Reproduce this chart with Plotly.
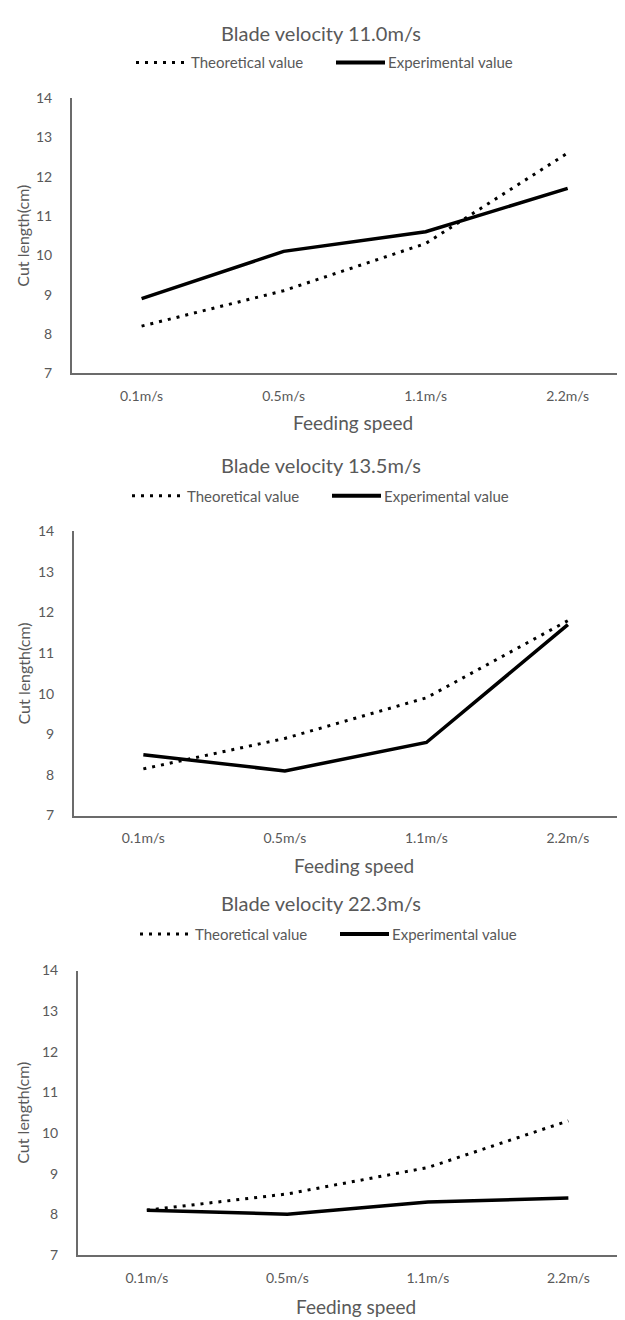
import plotly.graph_objects as go

categories = ["0.1m/s", "0.5m/s", "1.1m/s", "2.2m/s"]
titles = ["Blade velocity 11.0m/s", "Blade velocity 13.5m/s", "Blade velocity 22.3m/s"]
series_names = ["Theoretical value", "Experimental value"]
theoretical = [
    [8.2, 9.1, 10.3, 12.6],
    [8.15, 8.9, 9.9, 11.8],
    [8.1, 8.5, 9.15, 10.3],
]
experimental = [
    [8.9, 10.1, 10.6, 11.7],
    [8.5, 8.1, 8.8, 11.7],
    [8.1, 8.0, 8.3, 8.4],
]
y_ticks = [7, 8, 9, 10, 11, 12, 13, 14]

W, H = 625, 1320
FONT = "Lato"
GRAY = "#595959"
AXIS = "#6b6b6b"
DOT = "3px,6px"

# pixel geometry per panel
panels = [
    dict(top=82, bot=361, left=64, title=16, legend=46, leg_x=128, xlab=411),
    dict(top=521, bot=809, left=66, title=454, legend=485, leg_x=124, xlab=860),
    dict(top=966, bot=1254, left=70, title=898, legend=929, leg_x=132, xlab=1306),
]

def py(p):
    return 1 - p / H

def px(p):
    return p / W

fig = go.Figure()
annotations = []
shapes = []
layout = {}
for i in range(3):
    ax = "" if i == 0 else str(i + 1)
    P = panels[i]
    fig.add_trace(go.Scatter(
        x=categories, y=theoretical[i], mode="lines", name=series_names[0],
        line=dict(color="black", width=3, dash=DOT),
        xaxis="x" + ax, yaxis="y" + ax, showlegend=False))
    fig.add_trace(go.Scatter(
        x=categories, y=experimental[i], mode="lines", name=series_names[1],
        line=dict(color="black", width=3.5),
        xaxis="x" + ax, yaxis="y" + ax, showlegend=False))
    layout["xaxis" + ax] = dict(
        domain=[px(P["left"]), 1.0], anchor="y" + ax, type="category",
        range=[-0.49, 3.46], showline=True, linecolor=AXIS, linewidth=2,
        showgrid=False, ticks="", tickfont=dict(family=FONT, size=14, color=GRAY),
        ticklabelstandoff=9, fixedrange=True)
    layout["yaxis" + ax] = dict(
        domain=[py(P["bot"]), py(P["top"])], anchor="x" + ax,
        range=[7, 14], tickvals=y_ticks, showline=True, linecolor=AXIS,
        linewidth=2, showgrid=False, zeroline=False, ticks="",
        tickfont=dict(family=FONT, size=14, color=GRAY), ticklabelstandoff=15,
        fixedrange=True)
    # title
    annotations.append(dict(
        text=titles[i], x=0.5, y=py(P["title"]), xref="paper", yref="paper",
        xanchor="center", yanchor="middle", showarrow=False,
        font=dict(family=FONT, size=20, color=GRAY)))
    # x axis title (centred on plot area)
    annotations.append(dict(
        text="Feeding speed", x=(px(P["left"]) + 1.0) / 2, y=py(P["xlab"]),
        xref="paper", yref="paper", xanchor="center", yanchor="middle",
        showarrow=False, font=dict(family=FONT, size=19, color=GRAY)))
    # y axis title
    annotations.append(dict(
        text="Cut length(cm)", x=px(15), y=py((P["top"] + P["bot"]) / 2),
        xref="paper", yref="paper", xanchor="center", yanchor="middle",
        textangle=-90, showarrow=False, font=dict(family=FONT, size=16, color=GRAY)))
    # legend (drawn manually to match sample lengths)
    lx = P["leg_x"]
    ly = py(P["legend"])
    shapes.append(dict(type="line", xref="paper", yref="paper",
                       x0=px(lx), x1=px(lx + 49), y0=ly, y1=ly,
                       line=dict(color="black", width=3, dash=DOT)))
    annotations.append(dict(
        text=series_names[0], x=px(lx + 53), y=ly, xref="paper", yref="paper",
        xanchor="left", yanchor="middle", showarrow=False,
        font=dict(family=FONT, size=15, color=GRAY)))
    shapes.append(dict(type="line", xref="paper", yref="paper",
                       x0=px(lx + 200), x1=px(lx + 249), y0=ly, y1=ly,
                       line=dict(color="black", width=4)))
    annotations.append(dict(
        text=series_names[1], x=px(lx + 250), y=ly, xref="paper", yref="paper",
        xanchor="left", yanchor="middle", showarrow=False,
        font=dict(family=FONT, size=15, color=GRAY)))

fig.update_layout(
    width=W, height=H, margin=dict(l=0, r=0, t=0, b=0),
    paper_bgcolor="white", plot_bgcolor="white",
    annotations=annotations, shapes=shapes, showlegend=False, **layout)

fig.write_html("out.html")
